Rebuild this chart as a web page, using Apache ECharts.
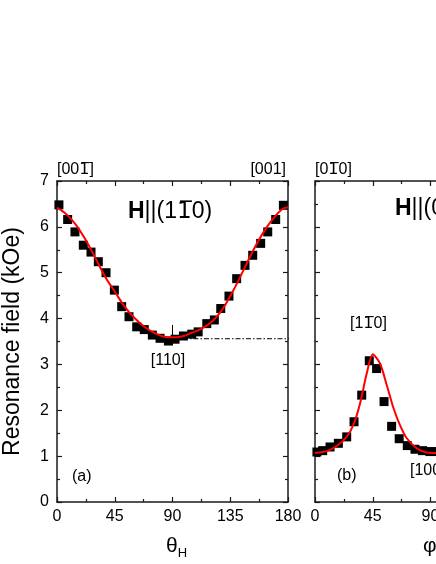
<!DOCTYPE html>
<html><head><meta charset="utf-8">
<script src="https://cdn.jsdelivr.net/npm/echarts/dist/echarts.min.js"></script>
<style>html,body{margin:0;padding:0;background:#fff}#c{width:436px;height:564px}</style>
</head><body><div id="c"></div>
<script>
// ---- data ----
const thetaData = [[1.5,6.48],[8.3,6.16],[14,5.89],[20.5,5.60],[26.5,5.45],[32.2,5.24],[38.2,5.00],[44.7,4.62],[50.4,4.26],[56.1,4.04],[62.1,3.82],[68,3.76],[74.3,3.64],[80.3,3.57],[86.8,3.51],[92,3.55],[98.5,3.62],[105,3.66],[110,3.71],[116.7,3.89],[122.6,3.97],[127.6,4.22],[134,4.49],[140,4.87],[146.5,5.16],[152.5,5.38],[158.7,5.64],[164.2,5.89],[170.4,6.16],[176.4,6.47]];
const thetaFit = [[0,6.42],[6.2,6.30],[14,6.07],[21.8,5.74],[29.6,5.34],[37.4,4.92],[45.2,4.58],[53,4.25],[60.8,4.00],[68.6,3.81],[76.4,3.68],[84.2,3.60],[89.4,3.59],[97.2,3.61],[105,3.69],[112.8,3.78],[120.6,3.93],[128.4,4.18],[136.2,4.55],[144,4.98],[151.7,5.42],[159.5,5.82],[167.3,6.14],[175.1,6.38],[180,6.43]];
const phiData = [[1.5,1.09],[6,1.12],[11.7,1.20],[18.2,1.28],[24.7,1.42],[30.4,1.75],[36.4,2.33],[42.3,3.08],[48,2.91],[53.8,2.19],[59.7,1.65],[65.6,1.38],[71.9,1.23],[77.9,1.15],[83.8,1.12],[89.5,1.10],[95.5,1.10]];
const phiFit = [[0,1.07],[9.1,1.11],[16.9,1.22],[24.7,1.42],[29.9,1.68],[35.1,2.15],[40.3,2.80],[45,3.22],[50.7,3.02],[55.9,2.55],[61,2.06],[66.3,1.67],[71.5,1.39],[79.3,1.17],[87.1,1.08],[94.3,1.07],[100,1.07]];
const refLine = [[90,3.56],[400,3.56]];
const crossMark = [[90,3.42],[90,3.86]];
const xTickLabels = [0,45,90,135,180];
const yTickLabels = [0,1,2,3,4,5,6,7];

const FONT = '"Liberation Sans", Arial, sans-serif';
const AX = '#1a1a1a';
const xStep = xTickLabels[1]-xTickLabels[0];
const yStep = yTickLabels[1]-yTickLabels[0];

function xAx(grid, pos, showLabel, name){
  return {
    type:'value', gridIndex:grid, position:pos,
    min:xTickLabels[0], max:xTickLabels[xTickLabels.length-1], interval:xStep,
    axisLine:{show:true,onZero:false,lineStyle:{color:AX,width:1.5}},
    axisTick:{show:true,inside:true,length:5,lineStyle:{color:AX,width:1.2}},
    minorTick:{show:true,splitNumber:2,length:3,lineStyle:{color:AX,width:1.2}},
    axisLabel:{show:showLabel,fontSize:16,color:'#000',fontFamily:FONT,margin:7,
      showMinLabel:true,showMaxLabel:true},
    splitLine:{show:false},
    name: name||'', nameLocation:'middle', nameGap:31,
    nameTextStyle:{fontFamily:FONT,color:'#000',padding:[0,0,0,8],rich:{
      g:{fontSize:21,fontFamily:FONT,color:'#000'},
      s:{fontSize:13,fontFamily:FONT,color:'#000',verticalAlign:'bottom',padding:[14,0,0,0]}}}
  };
}
function yAx(grid, pos, showLabel, name){
  return {
    type:'value', gridIndex:grid, position:pos,
    min:yTickLabels[0], max:yTickLabels[yTickLabels.length-1], interval:yStep,
    axisLine:{show:true,onZero:false,lineStyle:{color:AX,width:1.5}},
    axisTick:{show:true,inside:true,length:5,lineStyle:{color:AX,width:1.2}},
    minorTick:{show:true,splitNumber:2,length:3,lineStyle:{color:AX,width:1.2}},
    axisLabel:{show:showLabel,fontSize:16,color:'#000',fontFamily:FONT,margin:8},
    splitLine:{show:false},
    name: name||'', nameLocation:'middle', nameGap:33, nameRotate:90,
    nameTextStyle:{fontSize:23,fontFamily:FONT,color:'#000'}
  };
}

// rich text styles: "o" segment draws an over-barred 1
function richSet(fs){
  return {
    n:{fontSize:fs,fontFamily:FONT,fill:'#000'},
    b:{fontSize:fs,fontFamily:FONT,fontWeight:'bold',fill:'#000'},
    o:{fontSize:fs,fontFamily:'"DejaVu Sans"',fill:'#000'}
  };
}
function lbl(x,y,text,fs,align){
  return {type:'text',x:x,y:y,z:10,style:{text:text,textAlign:align||'left',textVerticalAlign:'middle',
    rich:richSet(fs)}};
}
const OB = '1\u0305';

const chart = echarts.init(document.getElementById('c'));
const gW = 231, gH = 321;
chart.setOption({
  animation:false,
  backgroundColor:'#fff',
  grid:[
    {left:57, top:181, width:gW, height:gH, outerBoundsMode:'none', containLabel:false},
    {left:315, top:181, width:gW, height:gH, outerBoundsMode:'none', containLabel:false}
  ],
  xAxis:[
    xAx(0,'bottom',true,'{g|θ}{s|H}'),
    xAx(0,'top',false),
    xAx(1,'bottom',true,'{g|φ}{s|H}'),
    xAx(1,'top',false)
  ],
  yAxis:[
    yAx(0,'left',true,'Resonance field (kOe)'),
    yAx(0,'right',false),
    yAx(1,'left',false),
    yAx(1,'right',false)
  ],
  series:[
    {type:'line',xAxisIndex:0,yAxisIndex:0,data:refLine,clip:false,symbol:'none',silent:true,z:1,
      lineStyle:{color:'#000',width:1,type:[5,2,1.5,2]}},
    {type:'line',xAxisIndex:0,yAxisIndex:0,data:crossMark,symbol:'none',silent:true,z:1,
      lineStyle:{color:'#000',width:1}},
    {type:'scatter',xAxisIndex:0,yAxisIndex:0,data:thetaData,symbol:'rect',symbolSize:9,z:2,
      itemStyle:{color:'#000',opacity:1}},
    {type:'scatter',xAxisIndex:2,yAxisIndex:2,data:phiData,symbol:'rect',symbolSize:9,z:2,
      itemStyle:{color:'#000',opacity:1}},
    {type:'line',xAxisIndex:0,yAxisIndex:0,data:thetaFit,smooth:0.4,symbol:'none',z:3,
      lineStyle:{color:'#ff0000',width:2}},
    {type:'line',xAxisIndex:2,yAxisIndex:2,data:phiFit,smooth:0.25,symbol:'none',z:3,
      lineStyle:{color:'#ff0000',width:2}}
  ],
  graphic:[
    lbl(57,170,'{n|[00}{o|'+OB+'}{n|]}',16),
    lbl(286,170,'{n|[001]}',16,'right'),
    lbl(315,170,'{n|[0}{o|'+OB+'}{n|0]}',16),
    lbl(350,324,'{n|[1}{o|'+OB+'}{n|0]}',16),
    lbl(168,361,'{n|[110]}',16,'center'),
    lbl(72,477,'{n|(a)}',16),
    lbl(337,476,'{n|(b)}',16),
    lbl(410,471,'{n|[100]}',16),
    lbl(128,212,'{b|H}{n|||(1}{o|'+OB+'}{n|0)}',23),
    lbl(395,209,'{b|H}{n|||(001)}',23)
  ]
});
</script></body></html>
